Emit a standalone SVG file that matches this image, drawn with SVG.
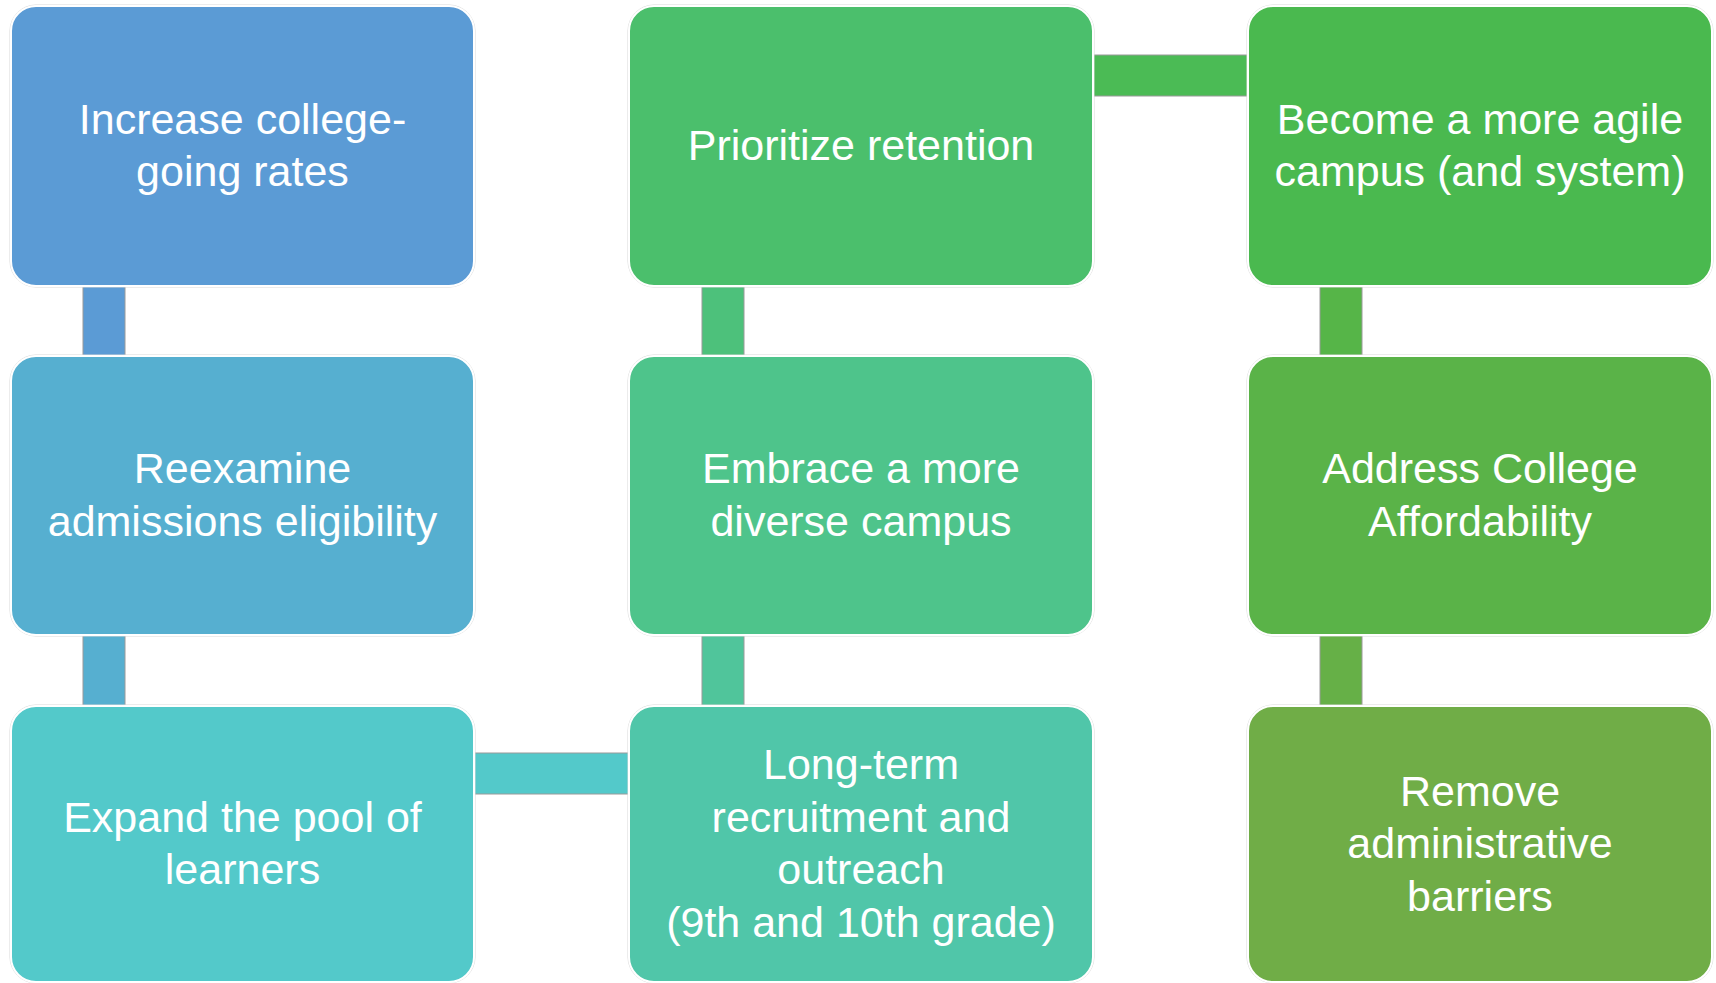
<svg xmlns="http://www.w3.org/2000/svg" width="1716" height="983" viewBox="0 0 1716 983">
<style>
.box{stroke:#ffffff;stroke-width:2}
.edge{fill:none;stroke:#d9d9d9;stroke-width:1}
.con{stroke:#9a9a9a;stroke-width:1}
.lbl{font-family:"Liberation Sans",Arial,sans-serif;font-size:43px;fill:#ffffff;text-anchor:middle}
</style>
<rect width="1716" height="983" fill="#ffffff"/>
<g id="connectors">
<rect class="con" x="83" y="280" width="42" height="82" fill="#5B9BD5"/>
<rect class="con" x="83" y="630" width="42" height="82" fill="#56AFD0"/>
<rect class="con" x="470" y="753" width="163" height="41" fill="#53C9CA"/>
<rect class="con" x="702" y="630" width="42" height="82" fill="#50C59B"/>
<rect class="con" x="702" y="280" width="42" height="82" fill="#4DC17B"/>
<rect class="con" x="1089" y="55" width="163" height="41" fill="#4BBB55"/>
<rect class="con" x="1320" y="280" width="42" height="82" fill="#56B548"/>
<rect class="con" x="1320" y="630" width="42" height="82" fill="#66B047"/>
</g>
<g id="n1">
<rect class="edge" x="10" y="5" width="465" height="282" rx="26"/>
<rect class="box" x="11" y="6" width="463" height="280" rx="25" fill="#5B9BD5"/>
<text class="lbl" x="242.5"><tspan x="242.5" y="133.75">Increase college-</tspan><tspan x="242.5" y="186.25">going rates</tspan></text>
</g>
<g id="n2">
<rect class="edge" x="10" y="355" width="465" height="281" rx="26"/>
<rect class="box" x="11" y="356" width="463" height="279" rx="25" fill="#56AFD0"/>
<text class="lbl"><tspan x="242.5" y="483.25">Reexamine</tspan><tspan x="242.5" y="535.75">admissions eligibility</tspan></text>
</g>
<g id="n3">
<rect class="edge" x="10" y="705" width="465" height="278" rx="26"/>
<rect class="box" x="11" y="706" width="463" height="276" rx="25" fill="#53C9CA"/>
<text class="lbl"><tspan x="242.5" y="831.75">Expand the pool of</tspan><tspan x="242.5" y="884.25">learners</tspan></text>
</g>
<g id="n4">
<rect class="edge" x="628" y="705" width="466" height="278" rx="26"/>
<rect class="box" x="629" y="706" width="464" height="276" rx="25" fill="#50C6A9"/>
<text class="lbl"><tspan x="861" y="779.25">Long-term</tspan><tspan x="861" y="831.75">recruitment and</tspan><tspan x="861" y="884.25">outreach</tspan><tspan x="861" y="936.75">(9th and 10th grade)</tspan></text>
</g>
<g id="n5">
<rect class="edge" x="628" y="355" width="466" height="281" rx="26"/>
<rect class="box" x="629" y="356" width="464" height="279" rx="25" fill="#4EC48B"/>
<text class="lbl"><tspan x="861" y="483.25">Embrace a more</tspan><tspan x="861" y="535.75">diverse campus</tspan></text>
</g>
<g id="n6">
<rect class="edge" x="628" y="5" width="466" height="282" rx="26"/>
<rect class="box" x="629" y="6" width="464" height="280" rx="25" fill="#4BBF6C"/>
<text class="lbl"><tspan x="861" y="160">Prioritize retention</tspan></text>
</g>
<g id="n7">
<rect class="edge" x="1247" y="5" width="466" height="282" rx="26"/>
<rect class="box" x="1248" y="6" width="464" height="280" rx="25" fill="#4AB94F"/>
<text class="lbl"><tspan x="1480" y="133.75">Become a more agile</tspan><tspan x="1480" y="186.25">campus (and system)</tspan></text>
</g>
<g id="n8">
<rect class="edge" x="1247" y="355" width="466" height="281" rx="26"/>
<rect class="box" x="1248" y="356" width="464" height="279" rx="25" fill="#5AB348"/>
<text class="lbl"><tspan x="1480" y="483.25">Address College</tspan><tspan x="1480" y="535.75">Affordability</tspan></text>
</g>
<g id="n9">
<rect class="edge" x="1247" y="705" width="466" height="278" rx="26"/>
<rect class="box" x="1248" y="706" width="464" height="276" rx="25" fill="#70AD47"/>
<text class="lbl"><tspan x="1480" y="805.5">Remove</tspan><tspan x="1480" y="858">administrative</tspan><tspan x="1480" y="910.5">barriers</tspan></text>
</g>
</svg>
